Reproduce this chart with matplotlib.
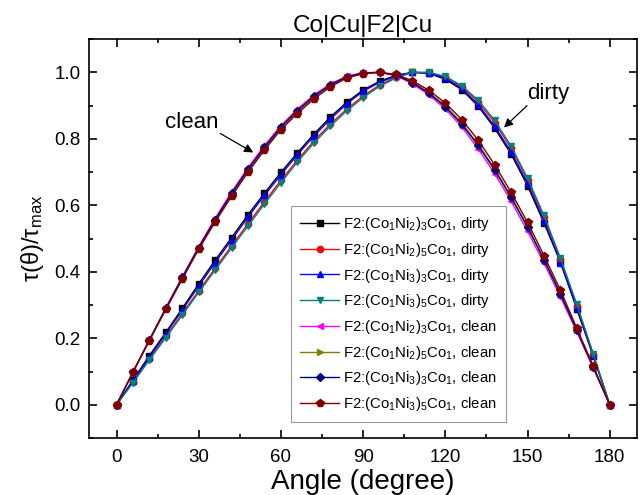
import matplotlib
matplotlib.use("Agg")
import matplotlib.pyplot as plt
from matplotlib.ticker import MultipleLocator

plt.rcParams['font.family'] = ['Liberation Sans', 'DejaVu Sans']
plt.rcParams['mathtext.fontset'] = 'custom'
plt.rcParams['mathtext.rm'] = 'Liberation Sans'
plt.rcParams['mathtext.it'] = 'Liberation Sans:italic'

angle = list(range(0, 181, 6))

# dirty samples
dirty_ni2_3 = [0, 0.074, 0.148, 0.218, 0.290, 0.364, 0.435, 0.503, 0.572, 0.637, 0.699,
               0.758, 0.814, 0.865, 0.910, 0.947, 0.973, 0.991, 1.000, 0.997, 0.979,
               0.948, 0.898, 0.832, 0.754, 0.659, 0.547, 0.430, 0.287, 0.146, 0]
dirty_ni2_5 = [0, 0.068, 0.138, 0.206, 0.275, 0.343, 0.411, 0.478, 0.545, 0.611, 0.675,
               0.736, 0.793, 0.844, 0.889, 0.929, 0.962, 0.986, 1.000, 0.999, 0.986,
               0.957, 0.911, 0.849, 0.772, 0.676, 0.564, 0.438, 0.298, 0.151, 0]
dirty_ni3_3 = [0, 0.072, 0.144, 0.214, 0.285, 0.357, 0.428, 0.496, 0.565, 0.630, 0.692,
               0.752, 0.808, 0.859, 0.905, 0.943, 0.970, 0.989, 1.000, 0.998, 0.982,
               0.952, 0.903, 0.838, 0.761, 0.666, 0.554, 0.428, 0.292, 0.149, 0]
dirty_ni3_5 = [0, 0.066, 0.135, 0.202, 0.270, 0.338, 0.405, 0.472, 0.538, 0.604, 0.668,
               0.730, 0.787, 0.838, 0.884, 0.924, 0.958, 0.983, 1.000, 1.000, 0.988,
               0.960, 0.916, 0.856, 0.778, 0.682, 0.570, 0.442, 0.302, 0.153, 0]

# clean samples
clean_ni2_3 = [0, 0.099, 0.196, 0.292, 0.385, 0.476, 0.561, 0.640, 0.713, 0.780, 0.840,
               0.889, 0.932, 0.965, 0.988, 0.999, 1.000, 0.990, 0.966, 0.932, 0.890,
               0.836, 0.770, 0.695, 0.613, 0.522, 0.426, 0.325, 0.219, 0.110, 0]
clean_ni2_5 = [0, 0.098, 0.194, 0.289, 0.381, 0.471, 0.554, 0.632, 0.705, 0.771, 0.832,
               0.881, 0.924, 0.959, 0.985, 0.997, 1.000, 0.992, 0.971, 0.940, 0.900,
               0.848, 0.784, 0.710, 0.627, 0.537, 0.438, 0.336, 0.225, 0.113, 0]
clean_ni3_3 = [0, 0.098, 0.195, 0.290, 0.383, 0.473, 0.557, 0.636, 0.709, 0.775, 0.836,
               0.885, 0.928, 0.962, 0.987, 0.998, 1.000, 0.991, 0.969, 0.937, 0.896,
               0.844, 0.780, 0.706, 0.624, 0.534, 0.436, 0.333, 0.224, 0.113, 0]
clean_ni3_5 = [0, 0.098, 0.193, 0.287, 0.378, 0.468, 0.550, 0.627, 0.700, 0.766, 0.828,
               0.876, 0.920, 0.956, 0.983, 0.996, 1.000, 0.994, 0.975, 0.946, 0.908,
               0.858, 0.796, 0.722, 0.639, 0.549, 0.449, 0.345, 0.230, 0.116, 0]

labels = [
    r'F2:(Co$_1$Ni$_2$)$_3$Co$_1$, dirty',
    r'F2:(Co$_1$Ni$_2$)$_5$Co$_1$, dirty',
    r'F2:(Co$_1$Ni$_3$)$_3$Co$_1$, dirty',
    r'F2:(Co$_1$Ni$_3$)$_5$Co$_1$, dirty',
    r'F2:(Co$_1$Ni$_2$)$_3$Co$_1$, clean',
    r'F2:(Co$_1$Ni$_2$)$_5$Co$_1$, clean',
    r'F2:(Co$_1$Ni$_3$)$_3$Co$_1$, clean',
    r'F2:(Co$_1$Ni$_3$)$_5$Co$_1$, clean',
]
series = [dirty_ni2_3, dirty_ni2_5, dirty_ni3_3, dirty_ni3_5,
          clean_ni2_3, clean_ni2_5, clean_ni3_3, clean_ni3_5]
colors = ['black', 'red', 'blue', '#008080', '#ff00ff', '#808000', '#000080', '#800000']
markers = ['s', 'o', '^', 'v', '<', '>', 'D', 'p']
msizes = [4.5, 4.5, 5, 5, 5, 5, 4, 5.5]

fig = plt.figure(figsize=(6.41, 4.95), dpi=100)
ax = fig.add_axes([0.139, 0.115, 0.855, 0.806])

for y, lab, c, m, ms in zip(series, labels, colors, markers, msizes):
    ax.plot(angle, y, color=c, marker=m, markersize=ms, linewidth=1.0, label=lab)

ax.set_xlim(-10, 190)
ax.set_ylim(-0.1, 1.1)
ax.xaxis.set_major_locator(MultipleLocator(30))
ax.xaxis.set_minor_locator(MultipleLocator(15))
ax.yaxis.set_major_locator(MultipleLocator(0.2))
ax.yaxis.set_minor_locator(MultipleLocator(0.1))
ax.yaxis.set_major_formatter(plt.FormatStrFormatter('%.1f'))
ax.tick_params(which='both', direction='in', top=True, right=True, width=1.2, labelsize=13.5)
ax.tick_params(which='major', length=6)
ax.tick_params(which='minor', length=3)
ax.tick_params(axis='x', pad=8)
ax.tick_params(axis='y', pad=6)
for sp in ax.spines.values():
    sp.set_linewidth(1.2)

ax.set_title('Co|Cu|F2|Cu', fontsize=17.5, pad=5)
ax.set_xlabel('Angle (degree)', fontsize=20, labelpad=2)
ax.set_ylabel(r'τ(θ)/τ$_{\rm max}$', fontsize=17, labelpad=6)

# labels with arrows
ax.text(27.3, 0.849, 'clean', fontsize=16, ha='center', va='center')
ax.annotate('', xy=(49.9, 0.759), xytext=(37.9, 0.816),
            arrowprops=dict(arrowstyle='-|>', color='black', lw=0.9,
                            shrinkA=0, shrinkB=0, mutation_scale=13))
ax.text(157.4, 0.937, 'dirty', fontsize=16, ha='center', va='center')
ax.annotate('', xy=(141.4, 0.834), xytext=(149.8, 0.90),
            arrowprops=dict(arrowstyle='-|>', color='black', lw=0.9,
                            shrinkA=0, shrinkB=0, mutation_scale=13))

leg = ax.legend(loc='lower left', bbox_to_anchor=(0.369, 0.040), fontsize=10.7,
                frameon=True, fancybox=False, edgecolor='#808080',
                handlelength=2.6, labelspacing=0.52, borderpad=0.6,
                handletextpad=0.3, borderaxespad=0)
leg.get_frame().set_linewidth(0.8)

fig.savefig('out.png', dpi=100)
